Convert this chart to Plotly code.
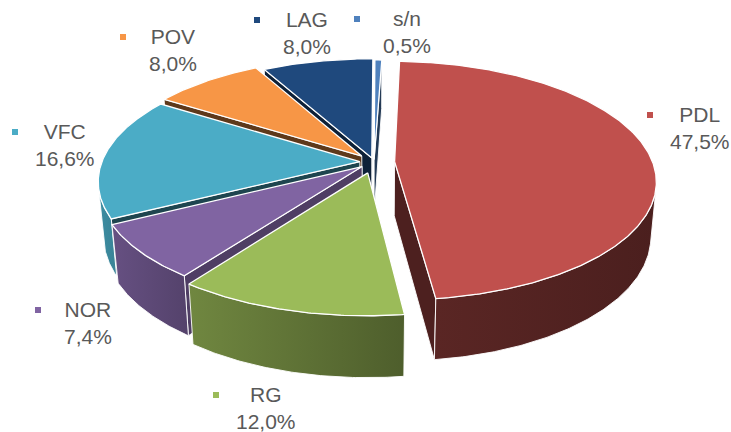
import numpy as np
import plotly.graph_objects as go

# ---------------- data ----------------
categories = ["PDL", "RG", "NOR", "VFC", "POV", "LAG", "s/n"]
values = [47.5, 12.0, 7.4, 16.6, 8.0, 8.0, 0.5]

# ---------------- styles ----------------
colors = ["#C0504D", "#9BBB59", "#8064A2", "#4BACC6", "#F79646", "#1F497D", "#4F81BD"]
explode = [0.08, 0.095, 0.06, 0.055, 0.07, 0.035, 0.02]
wall_shade = [(0.47, 0.39), (0.72, 0.50), (0.80, 0.66), (0.82, 0.76), (0.7, 0.6), (0.6, 0.5), (0.7, 0.6)]
radial_shade = [0.40, 0.40, 0.62, 0.40, 0.38, 0.45, 0.45]
label_xy = [(700, 128), (266, 408), (88, 323), (65, 145), (173, 50), (307, 33), (407, 32)]
START_ANGLE = 2.0

# projection (3D pie seen in perspective)
CX, CY = 374, 162
W = 258
ALPHA = np.radians(26.8)
K = 5.6
H = 0.24
S_A, C_A = np.sin(ALPHA), np.cos(ALPHA)
CAM = np.array([0.0, -K * C_A, K * S_A])


def proj(X, Y, Z):
    X = np.asarray(X, float); Y = np.asarray(Y, float); Z = np.asarray(Z, float)
    depth = K + Y * C_A - Z * S_A
    sx = CX + W * K * X / depth
    sy = CY - W * K * (Y * S_A + Z * C_A) / depth
    return sx, sy


def shade(hexc, f):
    h = hexc.lstrip("#")
    r, g, b = (int(h[i:i + 2], 16) for i in (0, 2, 4))
    return "rgb(%d,%d,%d)" % (round(r * f), round(g * f), round(b * f))


fig = go.Figure()

total = sum(values)
angles = START_ANGLE + np.cumsum([0] + [v / total * 360 for v in values])

walls = []   # (depth_key, trace)
tops = []
for i, (cat, v) in enumerate(zip(categories, values)):
    a0, a1 = np.radians(angles[i]), np.radians(angles[i + 1])
    m = (a0 + a1) / 2
    ox, oy = explode[i] * np.sin(m), explode[i] * np.cos(m)
    th = np.linspace(a0, a1, max(3, int(np.degrees(a1 - a0) * 2)))

    # top face
    X = np.concatenate([[ox], ox + np.sin(th), [ox]])
    Y = np.concatenate([[oy], oy + np.cos(th), [oy]])
    sx, sy = proj(X, Y, np.zeros_like(X))
    tops.append(go.Scatter(x=sx, y=sy, mode="lines", fill="toself", fillcolor=colors[i],
                           line=dict(color="white", width=1.3), hoverinfo="skip", showlegend=False))

    # outer curved wall: visible portion
    vis = (-ox * np.sin(th) - oy * np.cos(th) - 1 - K * C_A * np.cos(th)) > 0
    if vis.sum() >= 2:
        tv = th[vis]
        Xo = ox + np.sin(tv); Yo = oy + np.cos(tv)
        st, ss = proj(Xo, Yo, np.zeros_like(Xo))
        bt, bs = proj(Xo, Yo, -H * np.ones_like(Xo))
        px = np.concatenate([st, bt[::-1], st[:1]])
        py = np.concatenate([ss, bs[::-1], ss[:1]])
        wl, wr = wall_shade[i]
        tr = go.Scatter(x=px, y=py, mode="lines", fill="toself",
                        fillgradient=dict(type="horizontal",
                                          colorscale=[[0, shade(colors[i], wl)], [1, shade(colors[i], wr)]]),
                        line=dict(color="rgba(255,255,255,0.9)", width=1), hoverinfo="skip", showlegend=False)
        walls.append((np.mean(Yo), tr))

    # radial walls
    for edge, sign in ((a0, -1), (a1, 1)):
        n = np.array([sign * np.cos(edge), -sign * np.sin(edge), 0.0])
        pm = np.array([ox + 0.5 * np.sin(edge), oy + 0.5 * np.cos(edge), -H / 2])
        if np.dot(CAM - pm, n) > 0:
            Xr = [ox, ox + np.sin(edge), ox + np.sin(edge), ox, ox]
            Yr = [oy, oy + np.cos(edge), oy + np.cos(edge), oy, oy]
            Zr = [0, 0, -H, -H, 0]
            rx, ry = proj(Xr, Yr, Zr)
            tr = go.Scatter(x=rx, y=ry, mode="lines", fill="toself",
                            fillcolor=shade(colors[i], radial_shade[i]),
                            line=dict(color="rgba(255,255,255,0.9)", width=1), hoverinfo="skip",
                            showlegend=False)
            walls.append((pm[1], tr))

for _, tr in sorted(walls, key=lambda t: -t[0]):
    fig.add_trace(tr)
for tr in tops:
    fig.add_trace(tr)

# labels
for i, (cat, v) in enumerate(zip(categories, values)):
    lx, ly = label_xy[i]
    txt = f"{v:.1f}%".replace(".", ",")
    fig.add_annotation(x=lx, y=ly, xref="x", yref="y", text=f"{cat}<br>{txt}", showarrow=False,
                       font=dict(family="Liberation Sans, Arial", size=21, color="#595959"),
                       xanchor="center", yanchor="middle", align="center")
    fig.add_trace(go.Scatter(x=[lx - 50], y=[ly - 13], mode="markers",
                             marker=dict(symbol="square", size=6, color=colors[i]),
                             hoverinfo="skip", showlegend=False))

fig.update_layout(width=731, height=432, margin=dict(l=0, r=0, t=0, b=0),
                  paper_bgcolor="white", plot_bgcolor="white", showlegend=False,
                  xaxis=dict(range=[0, 731], visible=False, fixedrange=True),
                  yaxis=dict(range=[432, 0], visible=False, fixedrange=True))

fig.write_html("out.html", config={"displayModeBar": False},
               post_script="document.body.style.margin='0';document.body.style.overflow='hidden';")
